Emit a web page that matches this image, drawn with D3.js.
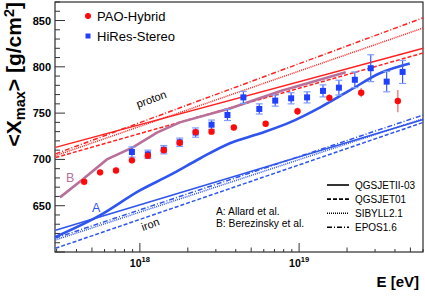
<!DOCTYPE html>
<html>
<head>
<meta charset="utf-8">
<script src="https://cdnjs.cloudflare.com/ajax/libs/d3/7.8.5/d3.min.js"></script>
<style>
body { margin: 0; background: #fff; }
svg { display: block; font-family: "Liberation Sans", Arial, sans-serif; }
</style>
</head>
<body>
<svg id="view" width="425" height="296"></svg>
<script>
// DATA (lg E in eV, Xmax in g/cm2)
var PAO_LGE = [17.65, 17.75, 17.85, 17.95, 18.05, 18.15, 18.25, 18.35, 18.45, 18.59, 18.79, 18.99, 19.19, 19.39, 19.62];
var PAO_XMAX = [676, 686, 688, 699, 704, 710, 718, 729.5, 730, 734.5, 738.5, 752, 766.5, 772, 763];
var PAO_ERR = [4, 3, 3, 3, 3, 3, 3, 3, 3, 3, 3, 4, 4, 5, 12];

var HIRES_LGE = [17.95, 18.05, 18.15, 18.25, 18.35, 18.45, 18.55, 18.65, 18.75, 18.85, 18.95, 19.05, 19.15, 19.25, 19.35, 19.45, 19.55, 19.65];
var HIRES_XMAX = [708, 705.5, 710.5, 718.5, 729, 737.5, 748, 767, 754.5, 763.5, 766, 767, 774, 777.5, 786, 798.5, 784, 794.5];
var HIRES_ERR = [5.5, 4.5, 4.5, 4.5, 5, 5, 6, 6.5, 5.5, 6, 6, 6, 6.5, 8, 8.5, 14.5, 11, 12.5];

var MODEL_NAMES = ["QGSJETII-03", "QGSJET01", "SIBYLL2.1", "EPOS1.6"];
var MODEL_LGE = [17.47, 19.78];
var PROTON_START = [713, 702, 704, 706];
var PROTON_END = [820, 815, 842, 853];
var IRON_START = [623.5, 604, 613, 615];
var IRON_END = [743, 740, 744, 748];

var ALLARD_LGE = [17.466, 17.749, 18.0, 18.188, 18.377, 18.565, 18.753, 18.942, 19.13, 19.318, 19.507, 19.695];
var ALLARD_XMAX = [616, 639.5, 666.5, 683, 701, 717.5, 728, 740, 756, 774.5, 793, 803.5];
var BEREZ_LGE = [17.498, 17.642, 17.793, 17.956, 18.107, 18.251, 18.565, 18.879, 19.293];
var BEREZ_XMAX = [659, 678.5, 700, 713, 729, 740, 755, 773.5, 794];

var Y_LABELS = [650, 700, 750, 800, 850];
var X_LABELS = [18, 19];

// STYLE
var RED = "#ff2020";
var BLUE = "#2f55ee";
var MAUVE = "#b8709a";
var DASHES = [null, "4,2", "1,1", "5,2,1,2"];

var svg = d3.select("#view");
var x = d3.scaleLog().domain([2.93e17, 6e19]).range([55, 423]);
var y = d3.scaleLinear().domain([600, 870]).range([252, 2]);

function E(lg) { return Math.pow(10, lg); }

// frame
svg.append("rect")
    .attr("x", 55).attr("y", 2)
    .attr("width", 368).attr("height", 250)
    .attr("fill", "none")
    .attr("stroke", "#000")
    .attr("stroke-width", 1)
    ;

// x ticks
for (var d = 17; d <= 19; d++) {
    for (var k = 1; k <= 9; k++) {
        var v = k * Math.pow(10, d);
        if (v < x.domain()[0] || v > x.domain()[1]) continue;
        var len = k === 1 ? 9 : (k === 2 || k === 5 ? 4.5 : 3);
        svg.append("line")
            .attr("x1", x(v)).attr("x2", x(v))
            .attr("y1", 252).attr("y2", 252 - len)
            .attr("stroke", "#333")
            .attr("stroke-width", 1)
            ;
    }
}
X_LABELS.forEach(function(p) {
    var t = svg.append("text")
        .attr("x", x(E(p)))
        .attr("y", 267)
        .attr("text-anchor", "middle")
        .attr("font-size", 10.5)
        .attr("font-weight", "bold")
        ;
    t.append("tspan").text("10");
    t.append("tspan").attr("dy", -5).attr("font-size", 7.5).text(p);
});

// y ticks
for (var v = 600; v <= 870; v += 10) {
    var len = v % 50 === 0 ? 10 : 5;
    svg.append("line")
        .attr("x1", 55).attr("x2", 55 + len)
        .attr("y1", y(v)).attr("y2", y(v))
        .attr("stroke", "#333")
        .attr("stroke-width", 1)
        ;
}
svg.selectAll(".ylab")
    .data(Y_LABELS)
    .enter().append("text")
    .attr("x", 51)
    .attr("y", function(d) { return y(d) + 4; })
    .attr("text-anchor", "end")
    .attr("font-size", 11)
    .attr("font-weight", "bold")
    .text(function(d) { return d; })
    ;

// axis titles
svg.append("text")
    .attr("x", 419).attr("y", 287)
    .attr("text-anchor", "end")
    .attr("font-size", 15)
    .attr("font-weight", "bold")
    .text("E [eV]")
    ;
var yt = svg.append("text")
    .attr("transform", "translate(21,2) rotate(-90)")
    .attr("text-anchor", "end")
    .attr("font-size", 21)
    .attr("font-weight", "bold")
    ;
yt.append("tspan").text("<X");
yt.append("tspan").attr("dy", 4).attr("font-size", 14.5).text("max");
yt.append("tspan").attr("dy", -4).text("> [g/cm");
yt.append("tspan").attr("dy", -7.5).attr("font-size", 14.5).text("2");
yt.append("tspan").attr("dy", 7.5).text("]");

// model lines
var plot = svg.append("g");
function modelLine(start, end, color, dash) {
    plot.append("line")
        .attr("x1", x(E(MODEL_LGE[0]))).attr("y1", y(start))
        .attr("x2", x(E(MODEL_LGE[1]))).attr("y2", y(end))
        .attr("stroke", color)
        .attr("stroke-width", 1.5)
        .attr("stroke-dasharray", dash)
        ;
}
for (var i = 0; i < MODEL_NAMES.length; i++) {
    modelLine(PROTON_START[i], PROTON_END[i], RED, DASHES[i]);
    modelLine(IRON_START[i], IRON_END[i], BLUE, DASHES[i]);
}

// A and B curves
var curve = d3.line()
    .x(function(d) { return x(E(d[0])); })
    .y(function(d) { return y(d[1]); })
    ;
plot.append("path")
    .attr("d", curve.curve(d3.curveMonotoneX)(d3.zip(ALLARD_LGE, ALLARD_XMAX)))
    .attr("fill", "none")
    .attr("stroke", BLUE)
    .attr("stroke-width", 2.6)
    ;
plot.append("path")
    .attr("d", curve.curve(d3.curveLinear)(d3.zip(BEREZ_LGE, BEREZ_XMAX)))
    .attr("fill", "none")
    .attr("stroke", MAUVE)
    .attr("stroke-width", 2.6)
    ;

// HiRes points
for (var i = 0; i < HIRES_LGE.length; i++) {
    var px = x(E(HIRES_LGE[i]));
    var lo = y(HIRES_XMAX[i] - HIRES_ERR[i]);
    var hi = y(HIRES_XMAX[i] + HIRES_ERR[i]);
    plot.append("line")
        .attr("x1", px).attr("x2", px).attr("y1", lo).attr("y2", hi)
        .attr("stroke", "#3a5cf0").attr("stroke-width", 1.2);
    [lo, hi].forEach(function(yy) {
        plot.append("line")
            .attr("x1", px - 3.5).attr("x2", px + 3.5).attr("y1", yy).attr("y2", yy)
            .attr("stroke", "#7f9cff").attr("stroke-width", 1.2);
    });
    plot.append("rect")
        .attr("x", px - 3).attr("y", y(HIRES_XMAX[i]) - 3)
        .attr("width", 6).attr("height", 6)
        .attr("fill", "#1f40ff");
}

// PAO points
for (var i = 0; i < PAO_LGE.length; i++) {
    var px = x(E(PAO_LGE[i]));
    plot.append("line")
        .attr("x1", px).attr("x2", px)
        .attr("y1", y(PAO_XMAX[i] - PAO_ERR[i]))
        .attr("y2", y(PAO_XMAX[i] + PAO_ERR[i]))
        .attr("stroke", "#f28a8a").attr("stroke-width", 1.6);
    plot.append("circle")
        .attr("cx", px).attr("cy", y(PAO_XMAX[i]))
        .attr("r", 3.2)
        .attr("fill", "#ff0a0a");
}

// labels
function label(text, tx, ty, size, color, angle) {
    svg.append("text")
        .attr("transform", "translate(" + tx + "," + ty + ") rotate(" + (angle || 0) + ")")
        .attr("font-size", size)
        .attr("fill", color)
        .text(text);
}
label("proton", 138, 108, 11, "#000", -20);
label("iron", 143, 231, 11, "#000", -20);
label("A", 92, 212, 12.5, BLUE);
label("B", 66, 182, 12.5, MAUVE);
label("A: Allard et al.", 216, 215, 10.3, "#000");
label("B: Berezinsky et al.", 216, 226.5, 10.3, "#000");

// data legend
svg.append("circle").attr("cx", 88).attr("cy", 16).attr("r", 3).attr("fill", "#ff0a0a");
svg.append("rect").attr("x", 85.5).attr("y", 33.5).attr("width", 5).attr("height", 5).attr("fill", "#1f40ff");
label("PAO-Hybrid", 97, 21, 13, "#000");
label("HiRes-Stereo", 97, 41, 13, "#000");

// model legend
MODEL_NAMES.forEach(function(name, i) {
    var ly = 185 + i * 14.1;
    svg.append("line")
        .attr("x1", 327).attr("x2", 349)
        .attr("y1", ly).attr("y2", ly)
        .attr("stroke", "#000")
        .attr("stroke-width", 1.6)
        .attr("stroke-dasharray", DASHES[i]);
    label(name, 355, ly + 3.6, 10, "#000");
});
</script>
</body>
</html>
